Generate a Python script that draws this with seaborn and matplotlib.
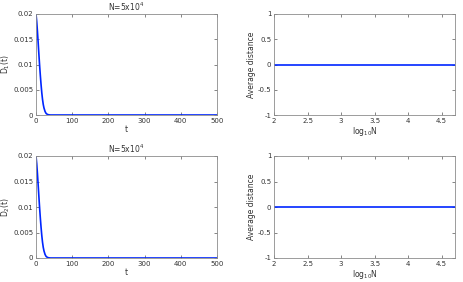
import numpy as np
import pandas as pd
import matplotlib
matplotlib.use("Agg")
import matplotlib.pyplot as plt
import seaborn as sns

# Data
t_vals = [0, 2, 4, 6, 8, 10, 12, 14, 16, 18, 20, 22, 25, 28, 32, 36, 40, 50, 100, 200, 300, 400, 500]
d1_vals = [0.020, 0.0185, 0.0165, 0.0143, 0.0120, 0.0098, 0.0078, 0.0060, 0.0044, 0.0031, 0.0021, 0.0014, 0.0007, 0.0003, 0.0001, 0.00003, 0.0, 0.0, 0.0, 0.0, 0.0, 0.0, 0.0]
d2_vals = [0.020, 0.0185, 0.0165, 0.0143, 0.0120, 0.0098, 0.0078, 0.0060, 0.0044, 0.0031, 0.0021, 0.0014, 0.0007, 0.0003, 0.0001, 0.00003, 0.0, 0.0, 0.0, 0.0, 0.0, 0.0, 0.0]
logN_vals = [2.0, 2.301, 2.699, 3.0, 3.301, 3.699, 4.0, 4.301, 4.699]
avg1_vals = [0, 0, 0, 0, 0, 0, 0, 0, 0]
avg2_vals = [0, 0, 0, 0, 0, 0, 0, 0, 0]
title_text = r"N=5x10$^4$"

sns.set_theme(style="white")
plt.rcParams['font.family'] = ['DejaVu Sans']

fig = plt.figure(figsize=(4.63, 2.82), dpi=100)
W, H = 463, 282
def add_ax(l, t, r, b):
    return fig.add_axes([l / W, 1 - b / H, (r - l) / W, (b - t) / H])

axes = [add_ax(36, 14, 217, 115), add_ax(274, 14, 455, 115),
        add_ax(36, 156, 217, 258), add_ax(274, 156, 455, 258)]

blue = (0.0, 0.15, 1.0)
fs = 5

def style(ax):
    for s in ax.spines.values():
        s.set_color('#8c8c8c')
        s.set_linewidth(0.6)
    ax.tick_params(direction='in', length=2, width=0.5, color='#555555',
                   labelsize=fs, labelcolor='#333333', top=True, right=True,
                   pad=2, bottom=True, left=True)

for ax, d, lab in [(axes[0], d1_vals, r"D$_1$(t)"), (axes[2], d2_vals, r"D$_2$(t)")]:
    df = pd.DataFrame({"t": t_vals, "D": d})
    sns.lineplot(data=df, x="t", y="D", ax=ax, color=blue, linewidth=1.2)
    ax.set_xlim(0, 500)
    ax.set_ylim(0, 0.02)
    ax.set_xticks([0, 100, 200, 300, 400, 500])
    ax.set_yticks([0, 0.005, 0.01, 0.015, 0.02])
    ax.set_yticklabels(["0", "0.005", "0.01", "0.015", "0.02"])
    ax.set_xlabel("t", fontsize=fs + 0.5, labelpad=1, color='#333333')
    ax.set_ylabel(lab, fontsize=fs + 0.5, color='#333333')
    ax.yaxis.set_label_coords(-0.135, 0.5)
    ax.set_title(title_text, fontsize=fs + 0.5, pad=2, color='#333333')
    style(ax)

for ax, a in [(axes[1], avg1_vals), (axes[3], avg2_vals)]:
    df = pd.DataFrame({"logN": logN_vals, "avg": a})
    sns.lineplot(data=df, x="logN", y="avg", ax=ax, color=blue, linewidth=1.2)
    ax.set_xlim(2, 4.699)
    ax.set_ylim(-1, 1)
    ax.set_xticks([2, 2.5, 3, 3.5, 4, 4.5])
    ax.set_xticklabels(["2", "2.5", "3", "3.5", "4", "4.5"])
    ax.set_yticks([-1, -0.5, 0, 0.5, 1])
    ax.set_yticklabels(["-1", "-0.5", "0", "0.5", "1"])
    ax.set_xlabel(r"log$_{10}$N", fontsize=fs + 0.5, labelpad=1, color='#333333')
    ax.set_ylabel("Average distance", fontsize=fs + 0.5, color='#333333')
    ax.yaxis.set_label_coords(-0.1, 0.5)
    style(ax)

fig.savefig("out.png", dpi=100)
